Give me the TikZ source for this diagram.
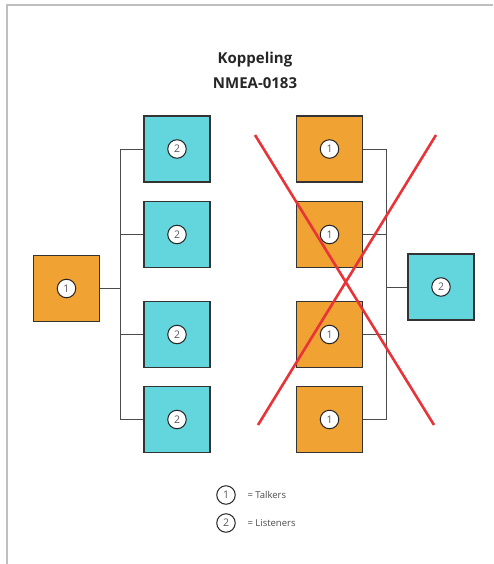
\documentclass[tikz,border=0pt]{standalone}
\usepackage{fontspec}
\setmainfont{Open Sans}
\begin{document}
\begin{tikzpicture}[x=1pt,y=-1pt,
  talker/.style={draw=black!80,line width=1.3pt,fill=orangefill,minimum size=66pt,inner sep=0pt},
  listener/.style={draw=black!80,line width=1.3pt,fill=cyanfill,minimum size=66pt,inner sep=0pt},
  num/.style={circle,draw=black!85,line width=1pt,fill=white,minimum size=18.5pt,inner sep=0pt,font=\fontsize{10.5}{10.5}\selectfont,text=black!65},
  bus/.style={draw=black!70,line width=0.8pt},
  cross/.style={draw=crossred,line width=2.6pt},
  legtext/.style={anchor=west,font=\fontsize{9.5}{10}\selectfont,text=black!70}]
\definecolor{orangefill}{RGB}{240,162,50}
\definecolor{cyanfill}{RGB}{98,214,220}
\definecolor{crossred}{RGB}{232,52,56}
\useasboundingbox (0,0) rectangle (493,564);
% page frame
\draw[black!25,line width=1.2pt] (7,564) -- (7,5) -- (493,5);
% title
\node (title) at (255,70) [align=center,font=\bfseries\fontsize{15}{25}\selectfont,text=black!85] {Koppeling\\NMEA-0183};

% one talker, four listeners
\node[talker] (lt) at (66.5,288.5) {};
\node[listener] (l1) at (177,149) {};
\node[listener] (l2) at (177,234.5) {};
\node[listener] (l3) at (177,334.5) {};
\node[listener] (l4) at (177,419.5) {};
\coordinate (bl) at (120,288.5);
\draw[bus] (lt.east) -- (bl);
\foreach \n in {l1,l2,l3,l4} \draw[bus] (\n.west) -| (bl);
\node[num] at (lt.center) {1};
\foreach \n in {l1,l2,l3,l4} \node[num] at (\n.center) {2};

% four talkers, one listener
\node[talker] (r1) at (329.5,149) {};
\node[talker] (r2) at (329.5,234.5) {};
\node[talker] (r3) at (329.5,334.5) {};
\node[talker] (r4) at (329.5,419.5) {};
\node[listener] (rl) at (441,287) {};
\coordinate (br) at (386,287);
\draw[bus] (rl.west) -- (br);
\foreach \n in {r1,r2,r3,r4} \draw[bus] (\n.east) -| (br);
\foreach \n in {r1,r2,r3,r4} \node[num] at (\n.center) {1};
\node[num] at (rl.center) {2};

% crossed out
\coordinate (xa) at (255,135);
\coordinate (xb) at (434,425);
\coordinate (xc) at (436,135);
\coordinate (xd) at (258,425);
\draw[cross] (xa) -- (xb);
\draw[cross] (xc) -- (xd);

% legend
\node[num] (k1) at (226,495) {1};
\node[num] (k2) at (226,523) {2};
\node[legtext] at (244,495) {= Talkers};
\node[legtext] at (244,523) {= Listeners};
\end{tikzpicture}
\end{document}
